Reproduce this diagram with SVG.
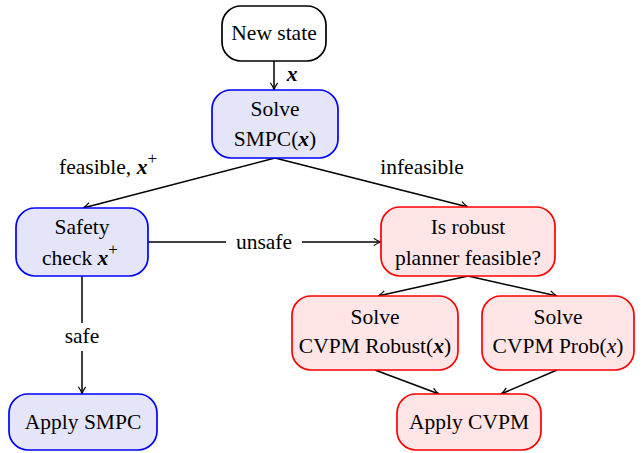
<svg xmlns="http://www.w3.org/2000/svg" width="644" height="453" viewBox="0 0 644 453">
<style>
text{font-family:"Liberation Serif","Times New Roman",serif;font-size:21.5px;fill:#000;text-anchor:middle}
.m{font-weight:bold;font-style:italic}
.mi{font-style:italic}
.sp{font-size:17px}
.b{fill:#e5e5fa;stroke:#0000ff;stroke-width:1.7}
.r{fill:#ffe5e5;stroke:#ff0000;stroke-width:1.7}
.w{fill:#fff;stroke:#000;stroke-width:1.7}
.c{fill:none;stroke:#000;stroke-width:1.5;marker-end:url(#ah)}
.bg{fill:#fff;stroke:none}
</style>
<defs>
<marker id="ah" viewBox="0 0 10 10" refX="9" refY="5" markerWidth="9" markerHeight="9" markerUnits="userSpaceOnUse" orient="auto">
<path d="M1,1 Q5,4 9,5 Q5,6 1,9" fill="none" stroke="#000" stroke-width="1.3"/>
</marker>
</defs>
<g id="connectors">
<path class="c" d="M274,61 L274,90"/>
<text x="292" y="81" class="m">x</text>
<path class="c" d="M275,158 L83,208"/>
<text x="108" y="174">feasible, <tspan class="m">x</tspan><tspan class="sp" dy="-10">+</tspan></text>
<path class="c" d="M275,158 L468,207"/>
<text x="422" y="174">infeasible</text>
<path class="c" d="M148,242 L381,242"/>
<rect class="bg" x="226" y="229" width="76" height="26"/>
<text x="264" y="249">unsafe</text>
<path class="c" d="M82,276 L82,394"/>
<rect class="bg" x="58" y="323" width="48" height="28"/>
<text x="82" y="343">safe</text>
<path class="c" d="M468,276 L378,296"/>
<path class="c" d="M468,276 L557,296"/>
<path class="c" d="M375,370 L439,394"/>
<path class="c" d="M557,370 L501,394"/>
</g>
<g id="new-state">
<rect class="w" x="222" y="6" width="104" height="55" rx="19"/>
<text x="274" y="40">New state</text>
</g>
<g id="solve-smpc">
<rect class="b" x="212" y="90" width="126" height="68" rx="19"/>
<text x="275" y="116">Solve</text>
<text x="275" y="146">SMPC(<tspan class="m">x</tspan>)</text>
</g>
<g id="safety-check">
<rect class="b" x="16" y="208" width="132" height="68" rx="19"/>
<text x="82" y="234">Safety</text>
<text x="80" y="265">check <tspan class="m">x</tspan><tspan class="sp" dy="-10">+</tspan></text>
</g>
<g id="robust-feasible">
<rect class="r" x="381" y="207" width="174" height="69" rx="19"/>
<text x="468" y="234">Is robust</text>
<text x="468" y="265">planner feasible?</text>
</g>
<g id="cvpm-robust">
<rect class="r" x="292" y="296" width="166" height="74" rx="19"/>
<text x="375" y="324">Solve</text>
<text x="375" y="353">CVPM Robust(<tspan class="m">x</tspan>)</text>
</g>
<g id="cvpm-prob">
<rect class="r" x="482" y="296" width="152" height="74" rx="19"/>
<text x="558" y="324">Solve</text>
<text x="558" y="353">CVPM Prob(<tspan class="mi">x</tspan>)</text>
</g>
<g id="apply-smpc">
<rect class="b" x="9" y="394" width="148" height="56" rx="19"/>
<text x="83" y="429">Apply SMPC</text>
</g>
<g id="apply-cvpm">
<rect class="r" x="397" y="394" width="144" height="56" rx="19"/>
<text x="469" y="429">Apply CVPM</text>
</g>
</svg>
